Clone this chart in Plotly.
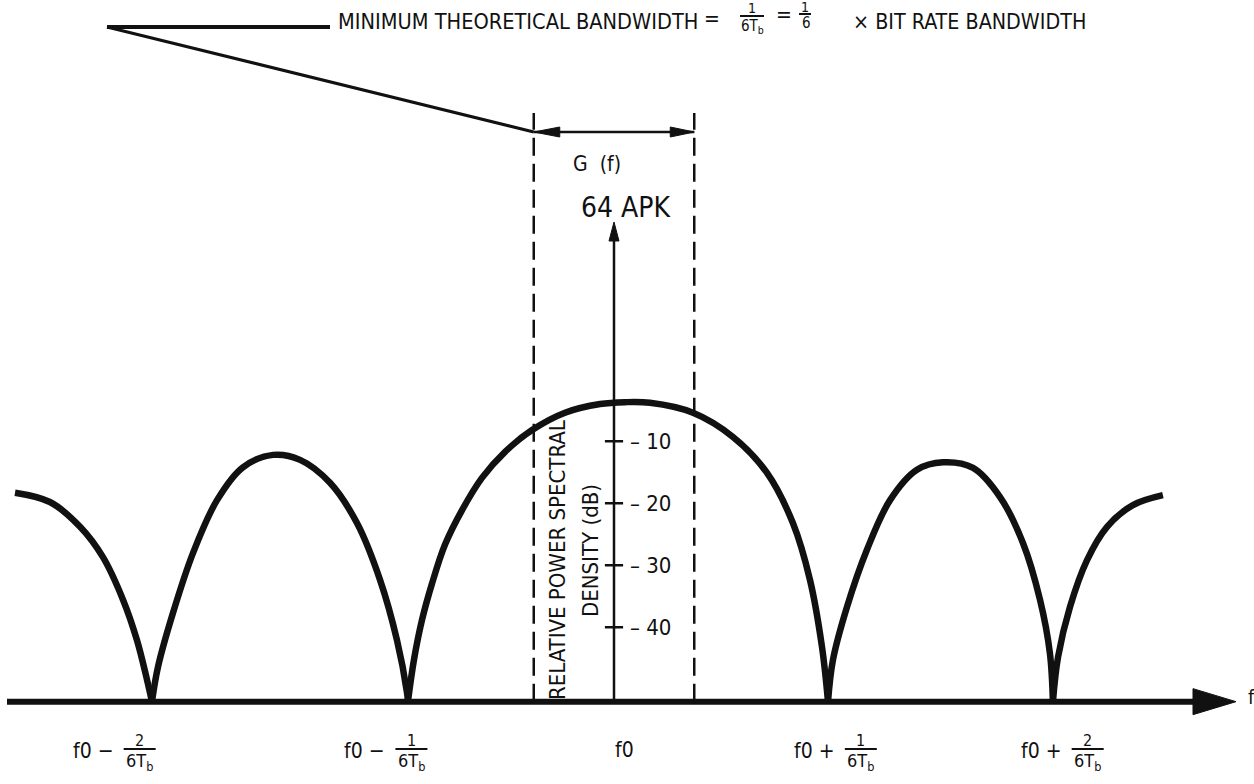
import plotly.graph_objects as go

# ---------------- data ----------------
# frequency offset from f0 in units of 1/(6Tb); relative power spectral density in dB
far_left_f = [-2.799, -2.636, -2.495, -2.388, -2.294, -2.229, -2.182, -2.159]
far_left_db = [-18.3, -19.8, -23.8, -28.7, -35.6, -42.1, -48.5, -52.0]

left_f = [-2.159, -2.131, -2.061, -1.967, -1.855, -1.734, -1.593, -1.467,
          -1.327, -1.201, -1.093, -1.014, -0.967, -0.963]
left_db = [-52.0, -46.4, -37.7, -28.0, -19.5, -14.2, -12.2, -13.0,
           -16.7, -23.2, -32.4, -42.1, -50.6, -52.0]

main_f = [-0.963, -0.935, -0.897, -0.850, -0.790, -0.710, -0.617, -0.509, -0.383,
          -0.229, -0.065, 0.051, 0.168, 0.369, 0.556, 0.715, 0.836, 0.916, 0.972, 1.0]
main_db = [-52.0, -45.3, -38.8, -32.9, -26.7, -21.1, -15.9, -11.7, -8.2,
           -5.4, -4.0, -3.7, -3.8, -5.4, -9.3, -15.1, -23.2, -32.4, -43.2, -52.0]

right_f = [1.0, 1.023, 1.089, 1.182, 1.290, 1.416, 1.537, 1.678, 1.804,
           1.911, 1.991, 2.037, 2.051]
right_db = [-52.0, -45.3, -36.7, -27.5, -19.5, -14.6, -13.4, -14.3, -19.0,
            -26.4, -35.6, -44.2, -52.0]

far_right_f = [2.051, 2.075, 2.131, 2.210, 2.304, 2.425, 2.565]
far_right_db = [-52.0, -44.8, -36.7, -29.2, -23.8, -20.3, -18.7]

floor_db = -52.0
band_edges = [-0.375, 0.375]          # minimum theoretical bandwidth 1/(6Tb)

db_ticks = [-10, -20, -30, -40]
db_labels = ["– 10", "– 20", "– 30", "– 40"]

freq_label_pos = [-2.31, -1.04, 0.05, 1.06, 2.12]
freq_label_prefix = ["f0 −", "f0 −", "f0", "f0 +", "f0 +"]
freq_label_num = ["2", "1", "", "1", "2"]
freq_label_den = "6T<sub>b</sub>"

title_left = "MINIMUM THEORETICAL BANDWIDTH"
title_right = "× BIT RATE BANDWIDTH"

# ---------------- geometry helpers (page pixels -> data) ----------------
W, H = 1254, 784
F0_PX, UNIT_PX = 614.0, 214.0
DB_TOP, PX_PER_DB = 61.17, 6.2


def fx(px):
    return (px - F0_PX) / UNIT_PX


def fy(py):
    return DB_TOP - py / PX_PER_DB


FONT = "Liberation Sans Narrow, DejaVu Sans Condensed, Arial Narrow, Arial, sans-serif"
INK = "#111111"

fig = go.Figure()

for xs, ys in [(far_left_f, far_left_db), (left_f, left_db), (main_f, main_db),
               (right_f, right_db), (far_right_f, far_right_db)]:
    fig.add_trace(go.Scatter(x=xs, y=ys, mode="lines",
                             line=dict(color=INK, width=6.5, shape="spline", smoothing=1.0),
                             hoverinfo="skip", showlegend=False))

# cross ticks on the vertical dB axis
fig.add_trace(go.Scatter(x=[0] * len(db_ticks), y=db_ticks, mode="markers",
                         marker=dict(symbol="line-ew", size=13,
                                     line=dict(color=INK, width=2.5)),
                         hoverinfo="skip", showlegend=False))

shapes = []
annotations = []

# frequency axis (thick) + arrow head
shapes.append(dict(type="line", x0=fx(7), x1=fx(1200), y0=floor_db, y1=floor_db,
                   line=dict(color=INK, width=6)))
shapes.append(dict(type="path", xsizemode="pixel", ysizemode="pixel",
                   xanchor=fx(1236), yanchor=floor_db,
                   path="M0,0 L-43,13 L-43,-13 Z", fillcolor=INK, line=dict(color=INK, width=1)))

# vertical dB axis + arrow head
shapes.append(dict(type="line", x0=0, x1=0, y0=floor_db, y1=fy(236),
                   line=dict(color=INK, width=2.5)))
shapes.append(dict(type="path", xsizemode="pixel", ysizemode="pixel",
                   xanchor=0, yanchor=fy(222),
                   path="M0,0 L-5,-19 L5,-19 Z", fillcolor=INK, line=dict(color=INK, width=1)))

# dashed bandwidth lines
for e in band_edges:
    shapes.append(dict(type="line", x0=e, x1=e, y0=floor_db, y1=fy(113),
                       line=dict(color=INK, width=2.5, dash="18px,8px")))

# double arrow G(f)
arrow_y = fy(132)
shapes.append(dict(type="line", x0=band_edges[0], x1=band_edges[1], y0=arrow_y, y1=arrow_y,
                   line=dict(color=INK, width=2.5)))
shapes.append(dict(type="path", xsizemode="pixel", ysizemode="pixel",
                   xanchor=band_edges[0], yanchor=arrow_y,
                   path="M0,0 L26,5 L26,-5 Z", fillcolor=INK, line=dict(color=INK, width=1)))
shapes.append(dict(type="path", xsizemode="pixel", ysizemode="pixel",
                   xanchor=band_edges[1], yanchor=arrow_y,
                   path="M0,0 L-24,5 L-24,-5 Z", fillcolor=INK, line=dict(color=INK, width=1)))

# leader lines to the title
shapes.append(dict(type="line", x0=fx(107), x1=fx(330), y0=fy(27), y1=fy(27),
                   line=dict(color=INK, width=4)))
shapes.append(dict(type="line", x0=fx(107), x1=band_edges[0], y0=fy(27), y1=arrow_y,
                   line=dict(color=INK, width=3)))


def txt(x, y, s, size, xanchor="center", yanchor="middle", angle=0, xshift=0, yshift=0):
    annotations.append(dict(x=x, y=y, text=s, showarrow=False, xanchor=xanchor, yanchor=yanchor,
                            textangle=angle, xshift=xshift, yshift=yshift,
                            font=dict(family=FONT, size=size, color=INK)))


def frac_bar(xc, y, x0, x1, width=2):
    shapes.append(dict(type="line", xsizemode="pixel", ysizemode="pixel",
                       xanchor=xc, yanchor=y, x0=x0, x1=x1, y0=0, y1=0,
                       line=dict(color=INK, width=width)))


# title line
txt(fx(336), fy(21), title_left, 21.6, xanchor="left")
txt(fx(712), fy(19), "=", 21)
txt(fx(752), fy(8), "1", 14)
frac_bar(fx(752), fy(16), -12, 12)
txt(fx(752), fy(26), "6T<sub>b</sub>", 15)
txt(fx(784), fy(15), "=", 21)
txt(fx(805), fy(7), "1", 14)
frac_bar(fx(805), fy(14), -6, 6)
txt(fx(806), fy(23), "6", 15)
txt(fx(851), fy(21), title_right, 21.3, xanchor="left")

# labels near the main lobe
txt(fx(597), fy(164), "G  (f)", 21)
txt(fx(626), fy(207), "64 APK", 28)
txt(fx(557), fy(560), "RELATIVE POWER SPECTRAL", 22, angle=-90)
txt(fx(590), fy(551), "DENSITY (dB)", 22, angle=-90)

# dB tick labels
for v, s in zip(db_ticks, db_labels):
    txt(fx(628), v, s, 22, xanchor="left")

# frequency labels
for pos, pre, num in zip(freq_label_pos, freq_label_prefix, freq_label_num):
    if num == "":
        txt(pos, fy(750), pre, 21)
        continue
    txt(pos, fy(751), pre, 21, xanchor="right", xshift=-4)
    txt(pos, fy(740), num, 16, xshift=20)
    frac_bar(pos, fy(749), 4, 36)
    txt(pos, fy(762), freq_label_den, 18, xshift=20)

# axis name at the right edge (cut off in the original)
txt(fx(1246), fy(697), "f", 20, xanchor="left")

fig.update_layout(
    width=W, height=H, autosize=False,
    margin=dict(l=0, r=0, t=0, b=0, pad=0),
    paper_bgcolor="white", plot_bgcolor="white",
    xaxis=dict(range=[fx(0), fx(W)], visible=False, fixedrange=True),
    yaxis=dict(range=[fy(H), fy(0)], visible=False, fixedrange=True),
    shapes=shapes, annotations=annotations, showlegend=False,
)

fig.write_html("out.html", config={"displayModeBar": False},
               post_script="document.body.style.margin='0px';")
